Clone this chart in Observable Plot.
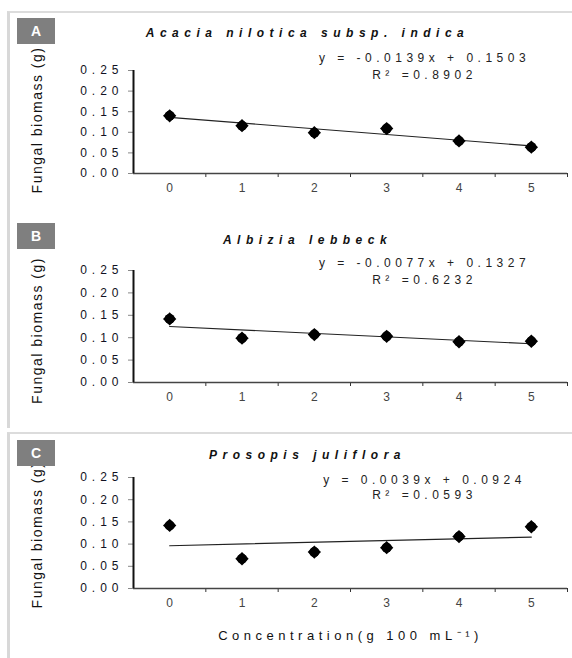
<!DOCTYPE html>
<html>
<head>
<meta charset="utf-8">
<script src="https://cdn.jsdelivr.net/npm/d3@7"></script>
<script src="https://cdn.jsdelivr.net/npm/@observablehq/plot@0.6"></script>
<style>
  html, body { margin: 0; padding: 0; background: #fff; overflow: hidden; }
  #wrap { position: relative; width: 572px; height: 658px; font-family: "Liberation Sans", Arial, sans-serif; }
  .box { position: absolute; border-top: 2px solid #dcdcdc; border-left: 3px solid #d8d8d8; box-sizing: border-box; z-index: 2; pointer-events: none; }
  .tag { position: absolute; left: 17px; width: 38px; height: 26px; background: #7f7f7f; color: #fff; font-weight: bold; font-size: 14px; line-height: 26px; text-align: center; z-index: 3; }
  .panel { position: absolute; left: 0; z-index: 1; }
  svg text { letter-spacing: 4.5px; }
  g[aria-label="x-axis tick label"] text { letter-spacing: 0; }
  g[aria-label="y-axis tick label"] text { letter-spacing: 5px; }
  .ttl text { letter-spacing: 5.5px; }
  .ylab text { letter-spacing: 1.5px; }
</style>
</head>
<body>
<div id="wrap"></div>
<script>
// ---- data ----
const categories = [0, 1, 2, 3, 4, 5];
const panelLetters = ["A", "B", "C"];
const speciesTitles = ["Acacia nilotica subsp. indica", "Albizia lebbeck", "Prosopis juliflora"];
const biomassA = [0.140, 0.116, 0.099, 0.109, 0.079, 0.064];
const biomassB = [0.142, 0.099, 0.107, 0.103, 0.091, 0.092];
const biomassC = [0.142, 0.067, 0.082, 0.092, 0.117, 0.139];
const slopes = [-0.0139, -0.0077, 0.0039];
const intercepts = [0.1503, 0.1327, 0.0924];
const equations = ["y = -0.0139x + 0.1503", "y = -0.0077x + 0.1327", "y = 0.0039x + 0.0924"];
const r2Labels = ["R² =0.8902", "R² =0.6232", "R² =0.0593"];
const yTicks = [0, 0.05, 0.10, 0.15, 0.20, 0.25];
const yLabel = "Fungal biomass (g)";
const xLabel = "Concentration(g 100 mL⁻¹)";

// ---- layout ----
const wrap = document.getElementById("wrap");
const layouts = [
  {top: 0,   height: 218, mt: 70, mb: 45, titleDy: -37, eqDy: -12, r2Dy: 5,  tagTop: 18,  yDy: -2},
  {top: 218, height: 214, mt: 52, mb: 50, titleDy: -30, eqDy: -7,  r2Dy: 10, tagTop: 223, yDy: 4},
  {top: 432, height: 226, mt: 45, mb: 70, titleDy: -22, eqDy: 3,   r2Dy: 18, tagTop: 440, yDy: 2}
];
const seriesList = [biomassA, biomassB, biomassC];
const xDomain = [categories[0] - 0.5, categories[categories.length - 1] + 0.5];

function boxDiv(top, height) {
  const d = document.createElement("div");
  d.className = "box";
  d.style.left = "7px"; d.style.top = top + "px";
  d.style.width = "565px"; d.style.height = height + "px";
  wrap.appendChild(d);
}
boxDiv(11, 417);
boxDiv(432, 226);

seriesList.forEach((values, i) => {
  const L = layouts[i];
  const pts = categories.map((c, j) => ({c, v: values[j]}));
  const ends = [categories[0], categories[categories.length - 1]];
  const trend = ends.map(c => ({c, v: slopes[i] * (c + 1) + intercepts[i]}));
  const marks = [
    Plot.axisY({ticks: yTicks, tickFormat: d3.format(".2f"), tickSize: 5, tickPadding: 5, stroke: "#888", fill: "#111122", fontSize: 12, label: null}),
    Plot.axisX({ticks: categories, tickSize: 0, tickPadding: 10, tickFormat: d => String(d), fill: "#444", fontSize: 12, label: null}),
    Plot.axisX({ticks: categories.map(c => c + 0.5), tickSize: 4, tickFormat: () => "", stroke: "#333", label: null}),
    Plot.ruleY([0], {stroke: "#444", strokeWidth: 1.5}),
    Plot.ruleX([xDomain[0]], {stroke: "#111", strokeWidth: 2}),
    Plot.line(trend, {x: "c", y: "v", stroke: "#222", strokeWidth: 1.2}),
    Plot.dot(pts, {x: "c", y: "v", r: 5, fill: "#000"}),
    Plot.dot(pts, {x: "c", y: "v", symbol: "diamond2", r: 6, fill: "#000"}),
    Plot.text([speciesTitles[i]], {className: "ttl", frameAnchor: "top", textAnchor: "middle", lineAnchor: "middle", dx: -43, dy: L.titleDy, fontStyle: "italic", fontWeight: "bold", fontSize: 12, fill: "#111"}),
    Plot.text([equations[i]], {frameAnchor: "top", textAnchor: "middle", lineAnchor: "middle", dx: 74, dy: L.eqDy, fontSize: 12, fill: "#222"}),
    Plot.text([r2Labels[i]], {frameAnchor: "top", textAnchor: "middle", lineAnchor: "middle", dx: 74, dy: L.r2Dy, fontSize: 12, fill: "#222"}),
    Plot.text([yLabel], {className: "ylab", frameAnchor: "left", textAnchor: "middle", lineAnchor: "middle", rotate: -90, dx: -96, dy: L.yDy, fontSize: 14, fill: "#111"})
  ];
  if (i === 2) {
    marks.push(Plot.text([xLabel], {frameAnchor: "bottom", textAnchor: "middle", lineAnchor: "middle", dx: 0, dy: 47, fontSize: 13, fill: "#111"}));
  }
  const svg = Plot.plot({
    width: 572,
    height: L.height,
    marginLeft: 133,
    marginRight: 5,
    marginTop: L.mt,
    marginBottom: L.mb,
    x: {domain: xDomain},
    y: {domain: [0, 0.25]},
    style: {background: "transparent", fontFamily: "'Liberation Sans', Arial, sans-serif", fontSize: "12px", overflow: "visible"},
    marks
  });
  const holder = document.createElement("div");
  holder.className = "panel";
  holder.style.top = L.top + "px";
  holder.appendChild(svg);
  wrap.appendChild(holder);

  const tag = document.createElement("div");
  tag.className = "tag";
  tag.style.top = L.tagTop + "px";
  tag.textContent = panelLetters[i];
  wrap.appendChild(tag);
});
</script>
</body>
</html>
